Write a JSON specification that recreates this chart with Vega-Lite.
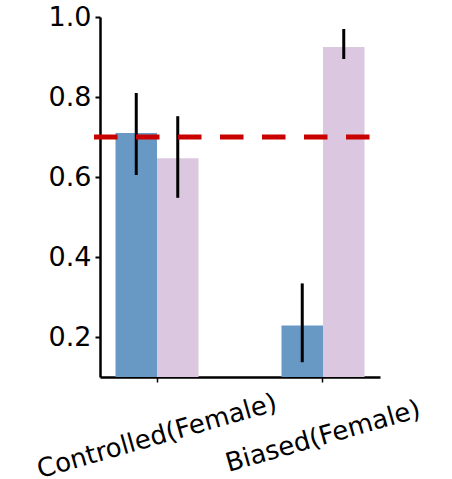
{
  "$schema": "https://vega.github.io/schema/vega-lite/v6.json",
  "width": 280,
  "height": 360,
  "autosize": "none",
  "padding": {"left": 100, "top": 17, "right": 72, "bottom": 102},
  "background": "white",
  "config": {
    "view": {"stroke": null},
    "font": "DejaVu Sans",
    "axis": {"grid": false, "domainColor": "black", "tickColor": "black", "labelColor": "black", "labelFont": "DejaVu Sans", "title": null}
  },
  "data": {
    "values": [
      {"cond": "Controlled(Female)", "group": "A", "value": 0.71, "lo": 0.605, "hi": 0.81},
      {"cond": "Controlled(Female)", "group": "B", "value": 0.647, "lo": 0.548, "hi": 0.752},
      {"cond": "Biased(Female)", "group": "A", "value": 0.229, "lo": 0.137, "hi": 0.334},
      {"cond": "Biased(Female)", "group": "B", "value": 0.925, "lo": 0.895, "hi": 0.97}
    ]
  },
  "layer": [
    {
      "mark": {"type": "bar", "clip": true},
      "encoding": {
        "x": {
          "field": "cond", "type": "nominal", "sort": ["Controlled(Female)", "Biased(Female)"],
          "scale": {"domain": ["Controlled(Female)", "Biased(Female)"], "paddingInner": 0.5, "paddingOuter": 0.0934},
          "axis": {"labelAngle": -16, "labelFontSize": 26, "labelLimit": 0, "labelPadding": 54, "labelBaseline": "middle", "labelAlign": "center", "labelOverlap": false, "tickSize": 5, "tickWidth": 1.5, "domainWidth": 2.5}
        },
        "xOffset": {"field": "group", "type": "nominal", "scale": {"paddingInner": 0, "paddingOuter": 0}},
        "y": {
          "field": "value", "type": "quantitative",
          "scale": {"domain": [0.1, 1.0], "nice": false, "zero": false},
          "axis": {"values": [0.2, 0.4, 0.6, 0.8, 1.0], "format": ".1f", "labelFontSize": 27, "labelPadding": 4, "tickSize": 5, "tickWidth": 2, "domainWidth": 2.5}
        },
        "y2": {"datum": 0.1},
        "color": {"field": "group", "type": "nominal", "scale": {"range": ["#6899c4", "#dbc7df"]}, "legend": null}
      }
    },
    {
      "mark": {"type": "rule", "strokeWidth": 3, "color": "black"},
      "encoding": {
        "x": {"field": "cond", "type": "nominal", "sort": ["Controlled(Female)", "Biased(Female)"]},
        "xOffset": {"field": "group", "type": "nominal"},
        "y": {"field": "lo", "type": "quantitative"},
        "y2": {"field": "hi"}
      }
    },
    {
      "data": {"values": [{"from": "Controlled(Female)", "to": "Biased(Female)", "baseline": 0.70}]},
      "mark": {"type": "rule", "color": "#c80000", "strokeWidth": 5, "strokeDash": [23.5, 18.5], "strokeCap": "butt", "clip": false},
      "encoding": {
        "x": {"field": "from", "type": "nominal", "bandPosition": -0.259, "sort": ["Controlled(Female)", "Biased(Female)"]},
        "x2": {"field": "to", "bandPosition": 1.066},
        "y": {"field": "baseline", "type": "quantitative"}
      }
    }
  ]
}
